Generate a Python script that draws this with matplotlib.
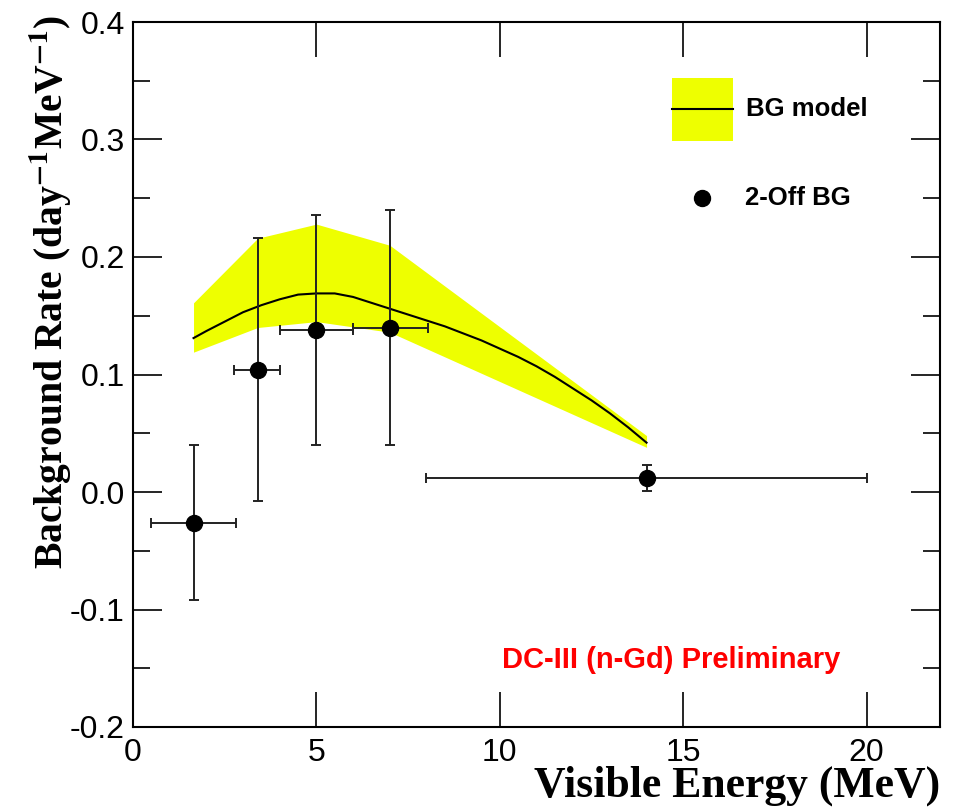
import numpy as np
import matplotlib as mpl
import matplotlib.pyplot as plt
from matplotlib.patches import Rectangle
from matplotlib.lines import Line2D
from matplotlib.ticker import MultipleLocator

mpl.rcParams.update({"font.family": "Liberation Sans",
                     "mathtext.fontset": "stix",
                     "axes.unicode_minus": False})

# 2-Off measured background, one point per energy bin
off_x = [1.65, 3.4, 5.0, 7.0, 14.0]
off_xlo = [1.15, 0.65, 1.0, 1.0, 6.0]
off_xhi = [1.15, 0.6, 1.0, 1.05, 6.0]
off_y = [-0.026, 0.104, 0.138, 0.140, 0.012]
off_yerr = [0.066, 0.112, 0.098, 0.100, 0.011]

# BG model uncertainty band
band_x = [1.65, 3.4, 5.0, 7.0, 14.0]
band_lo = [0.119, 0.140, 0.145, 0.136, 0.038]
band_hi = [0.161, 0.216, 0.228, 0.210, 0.048]

# BG model central curve
model_x = [1.65, 2.0, 2.5, 3.0, 3.5, 4.0, 4.5, 5.0, 5.5, 6.0, 6.5, 7.0,
           7.5, 8.0, 8.5, 9.0, 9.5, 10.0, 10.5, 11.0, 11.5, 12.0, 12.5,
           13.0, 13.5, 14.0]
model_y = [0.131, 0.137, 0.145, 0.153, 0.159, 0.164, 0.168, 0.169, 0.169,
           0.166, 0.161, 0.156, 0.151, 0.146, 0.141, 0.135, 0.129, 0.122,
           0.115, 0.107, 0.098, 0.088, 0.078, 0.067, 0.055, 0.042]

legend_labels = ["BG model", "2-Off BG"]

W, H = 957, 811
fig = plt.figure(figsize=(W / 100, H / 100), dpi=100)
ax = fig.add_axes([133 / W, (H - 727) / H, 807 / W, 705 / H])


def px(x, y):
    # pixel position (from top-left) -> figure fraction
    return x / W, 1 - y / H


band_col = "#eeff00"
ax.fill_between(band_x, band_lo, band_hi, color=band_col, lw=0, zorder=1)
ax.plot(model_x, model_y, color="k", lw=1.5, zorder=2)
ax.errorbar(off_x, off_y, xerr=[off_xlo, off_xhi], yerr=off_yerr,
            fmt="o", color="k", ms=11.5, ecolor="#222222", elinewidth=1.4,
            capsize=3.5, capthick=1.4, zorder=3)

ax.set_xlim(0, 22)
ax.set_ylim(-0.2, 0.4)
ax.xaxis.set_major_locator(MultipleLocator(5))
ax.yaxis.set_major_locator(MultipleLocator(0.1))
ax.yaxis.set_minor_locator(MultipleLocator(0.05))
ax.tick_params(which="both", direction="in", top=True, right=True,
               width=1.2, labelsize=23)
ax.tick_params(axis="x", which="major", length=25, pad=8)
ax.tick_params(axis="y", which="major", length=21, pad=6)
ax.tick_params(axis="y", which="minor", length=12)
ax.set_yticklabels(["%.1f" % v for v in ax.get_yticks()])
for s in ax.spines.values():
    s.set_linewidth(1.5)

ax.set_xlabel("Visible Energy (MeV)", fontfamily="Liberation Serif",
              fontweight="bold", fontsize=31.5, ha="right", x=1.0,
              labelpad=-2)
ax.set_ylabel(r"Background Rate (day$^{\mathbf{-1}}$MeV$^{\mathbf{-1}}$)",
              fontfamily="Liberation Serif", fontweight="bold", fontsize=28.5,
              ha="right", y=1.01, labelpad=-3)

# legend block
x0, y0 = px(672, 141)
fig.add_artist(Rectangle((x0, y0), 61 / W, 63 / H, transform=fig.transFigure,
                         facecolor=band_col, edgecolor="none"))
fig.add_artist(Line2D([672 / W, 733 / W], [px(0, 109)[1]] * 2,
                      transform=fig.transFigure, color="k", lw=1.5))
fig.text(*px(746, 109), legend_labels[0], fontsize=18.5, fontweight="bold",
         va="center")
fig.add_artist(Line2D([702 / W], [px(0, 198)[1]], transform=fig.transFigure,
                      ls="none", marker="o", color="k", ms=11.5))
fig.text(*px(745, 198), legend_labels[1], fontsize=18.5, fontweight="bold",
         va="center")

ax.text(*px(502, 660), "DC-III (n-Gd) Preliminary",
        transform=fig.transFigure, color="red", fontsize=21,
        fontweight="bold", va="center")

fig.savefig("out.png", dpi=100)
